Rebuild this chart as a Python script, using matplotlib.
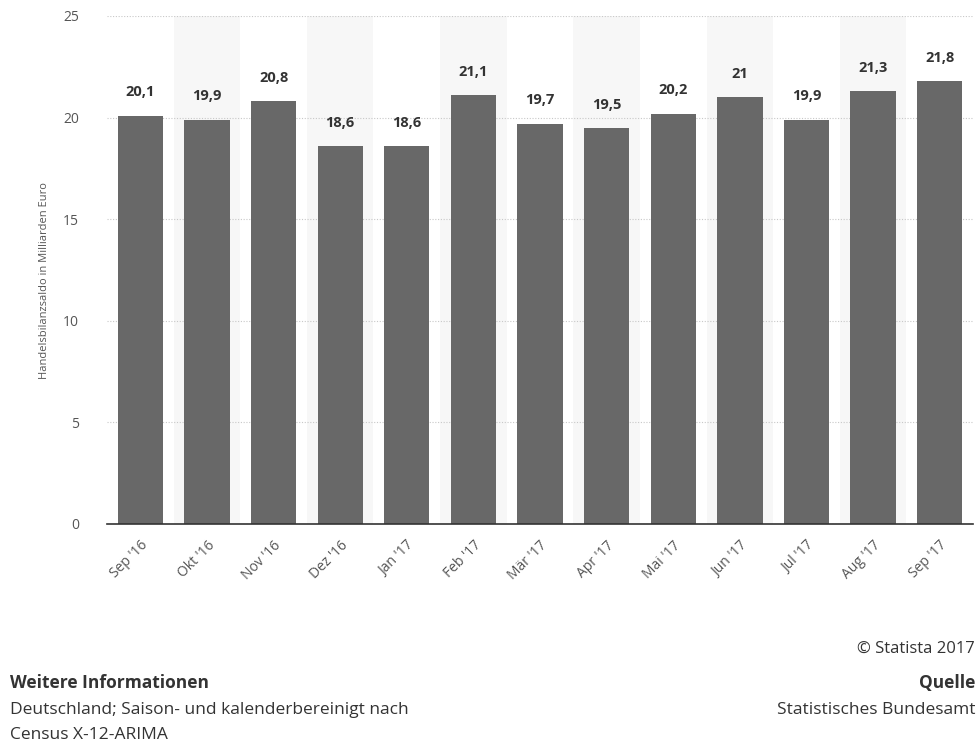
import numpy as np
import matplotlib.pyplot as plt

plt.rcParams['font.family'] = ['Open Sans', 'DejaVu Sans']

months = ["Sep '16", "Okt '16", "Nov '16", "Dez '16", "Jan '17", "Feb '17", "Mär '17",
          "Apr '17", "Mai '17", "Jun '17", "Jul '17", "Aug '17", "Sep '17"]
values = [20.1, 19.9, 20.8, 18.6, 18.6, 21.1, 19.7, 19.5, 20.2, 21.0, 19.9, 21.3, 21.8]
value_labels = ['20,1', '19,9', '20,8', '18,6', '18,6', '21,1', '19,7',
                '19,5', '20,2', '21', '19,9', '21,3', '21,8']
yticks = [0, 5, 10, 15, 20, 25]

fig = plt.figure(figsize=(9.79, 7.44), dpi=100)
ax = fig.add_axes([0.1093, 0.2957, 0.8846, 0.6828])

x = np.arange(len(months))

# alternating light bands
for i in x:
    if i % 2 == 1:
        ax.axvspan(i - 0.5, i + 0.5, color='#f7f7f7', zorder=0, lw=0)

ax.bar(x, values, width=0.68, color='#686868', zorder=3)

for xi, v, lab in zip(x, values, value_labels):
    ax.text(xi, v + 0.8, lab, ha='center', va='bottom', fontsize=10.5,
            fontweight='bold', color='#333333', zorder=4)

ax.set_xlim(-0.5, len(months) - 0.5)
ax.set_ylim(0, 25)
ax.set_yticks(yticks)
ax.yaxis.grid(True, linestyle=(0, (1, 1.5)), color='#c8c8c8', lw=0.8, zorder=1)
ax.set_axisbelow(True)

for s in ['top', 'right', 'left']:
    ax.spines[s].set_visible(False)
ax.spines['bottom'].set_color('#333333')
ax.spines['bottom'].set_linewidth(1.2)
ax.spines['bottom'].set_zorder(5)

ax.set_xticks(x)
ax.set_xticklabels(months, rotation=45, ha='right', rotation_mode='anchor',
                   fontsize=10, color='#555555')
ax.tick_params(axis='x', length=0, pad=10)
ax.tick_params(axis='y', length=0, pad=20, labelsize=10, labelcolor='#555555')

ax.set_ylabel('Handelsbilanzsaldo in Milliarden Euro', fontsize=8, color='#555555', va='center')
ax.yaxis.set_label_coords(-0.072, 0.48)

fig.text(0.996, 0.128, '© Statista 2017', ha='right', va='center', fontsize=12, color='#333333')
fig.text(0.01, 0.082, 'Weitere Informationen', ha='left', va='center', fontsize=12.5,
         fontweight='bold', color='#333333')
fig.text(0.01, 0.046, 'Deutschland; Saison- und kalenderbereinigt nach', ha='left', va='center',
         fontsize=12.5, color='#333333')
fig.text(0.01, 0.012, 'Census X-12-ARIMA', ha='left', va='center', fontsize=12.5, color='#333333')
fig.text(0.996, 0.082, 'Quelle', ha='right', va='center', fontsize=12.5,
         fontweight='bold', color='#333333')
fig.text(0.996, 0.046, 'Statistisches Bundesamt', ha='right', va='center', fontsize=12.5,
         color='#333333')

fig.savefig('out.png', dpi=100)
